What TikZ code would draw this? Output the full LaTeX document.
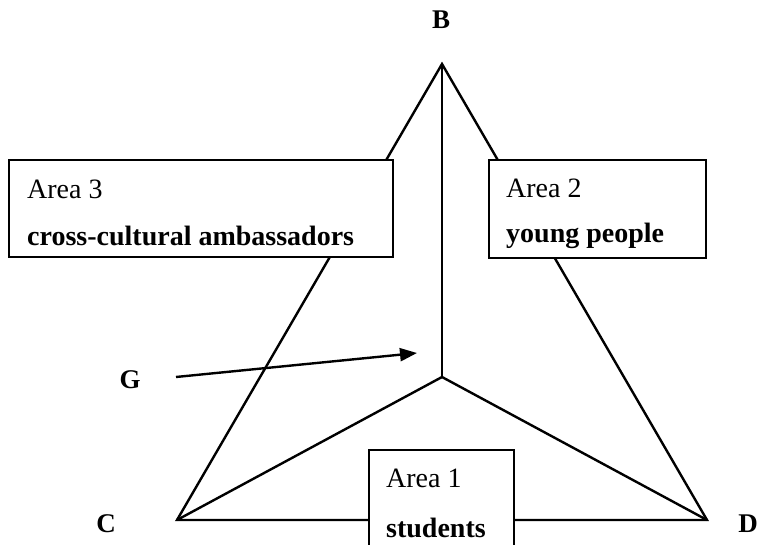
\documentclass[tikz,border=0pt]{standalone}
\usepackage{fontspec}
\setmainfont{Liberation Serif}
\usetikzlibrary{arrows.meta}

\tikzset{
	edge/.style={black, line width=2.4pt, line join=miter},
	areabox/.style={draw=black, fill=white, line width=2.4pt, inner sep=0pt, anchor=north west},
	boxtext/.style={anchor=base west, inner sep=0pt, font=\fontsize{28}{32}\selectfont},
	boldtext/.style={boxtext, font=\fontsize{28}{32}\selectfont\bfseries},
	cornerlabel/.style={inner sep=0pt, font=\fontsize{27}{30}\selectfont\bfseries}
}

\begin{document}
\begin{tikzpicture}[x=1pt,y=1pt,yscale=-1,xscale=1]
		% Picture frame
		\useasboundingbox (0,0) rectangle (760,545);

		% Corners of the triangle and the inner point
		\coordinate (B) at (442,64);
		\coordinate (C) at (177,520);
		\coordinate (D) at (707,520);
		\coordinate (O) at (442,377);

		% Sides of the triangle
		\draw[edge] (C) -- (B) -- (D) -- cycle;

		% Spokes from the inner point
		\draw[edge] (O) -- (B);
		\draw[edge] (O) -- (C);
		\draw[edge] (O) -- (D);

		% Area 3 box on the left
		\node[areabox, minimum width=384pt, minimum height=97pt] (area3) at (8,159) {};
		\node[boxtext] (area3a) at ([xshift=19pt,yshift=40pt]area3.north west) {Area 3};
		\node[boldtext] (area3b) at ([yshift=47pt]area3a.base west) {cross-cultural ambassadors};

		% Area 2 box on the right
		\node[areabox, minimum width=217pt, minimum height=98pt] (area2) at (488,159) {};
		\node[boxtext] (area2a) at ([xshift=18pt,yshift=39pt]area2.north west) {Area 2};
		\node[boldtext] (area2b) at ([yshift=45pt]area2a.base west) {young people};

		% Area 1 box at the bottom (runs past the lower edge)
		\node[areabox, minimum width=145pt, minimum height=115pt] (area1) at (368,449) {};
		\node[boxtext] (area1a) at ([xshift=18pt,yshift=38pt]area1.north west) {Area 1};
		\node[boldtext] (area1b) at ([yshift=50pt]area1a.base west) {students};

		% Corner letters
		\node[cornerlabel] (labB) at (441,20) {B};
		\node[cornerlabel] (labC) at (106,524) {C};
		\node[cornerlabel] (labD) at (748,524) {D};
		\node[cornerlabel] (labG) at (130,380) {G};

		% Arrow from G towards the inner point
		\coordinate (Gtip) at (417,353);
		\draw[edge, -{Triangle[length=17pt,width=13pt]}] ([xshift=46pt,yshift=-3pt]labG.center) -- (Gtip);
	\end{tikzpicture}
\end{document}
